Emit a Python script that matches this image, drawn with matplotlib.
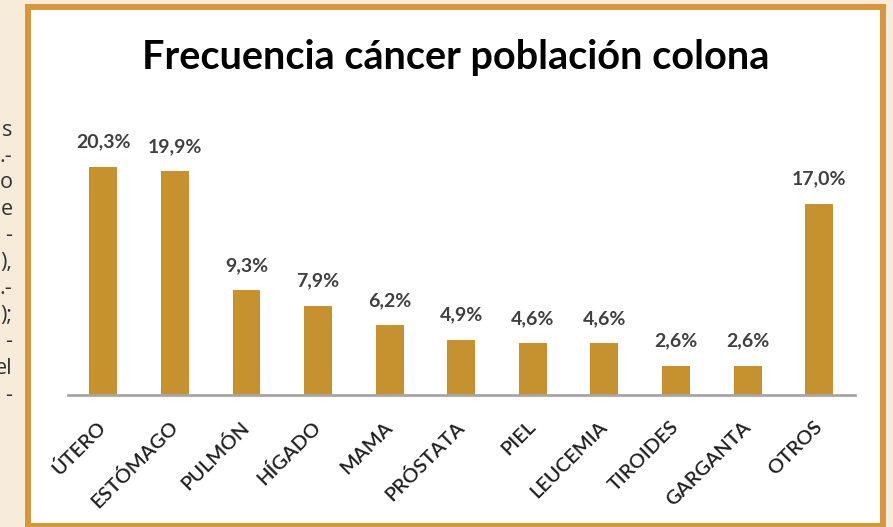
import numpy as np
import matplotlib.pyplot as plt
from matplotlib.patches import Rectangle

# data
categorias = ['ÚTERO', 'ESTÓMAGO', 'PULMÓN', 'HÍGADO', 'MAMA', 'PRÓSTATA',
              'PIEL', 'LEUCEMIA', 'TIROIDES', 'GARGANTA', 'OTROS']
frecuencia = [20.3, 19.9, 9.3, 7.9, 6.2, 4.9, 4.6, 4.6, 2.6, 2.6, 17.0]
titulo = 'Frecuencia cáncer población colona'
# restos de texto cortado a la izquierda de la captura
texto_izq = ['s', '.-', 'o', 'e', '-', '),', '.-', ');', '-', 'el', '-']

W, H = 893, 527
fondo = '#F7EBDA'
borde = '#D6963C'
barra = '#C69230'
gris = '#404040'

plt.rcParams['font.family'] = ['Lato', 'DejaVu Sans']

fig = plt.figure(figsize=(W/100, H/100), dpi=100)
fig.patch.set_facecolor(fondo)

def fx(px):
    return px/W
def fy(py):
    return 1 - py/H

# recuadro del grafico
fig.patches.append(Rectangle((fx(28), fy(526)), fx(883)-fx(28), fy(7)-fy(526),
                             transform=fig.transFigure, facecolor='white',
                             edgecolor=borde, lw=4.3, zorder=-10))

for i, t in enumerate(texto_izq):
    fig.text(fx(12.5), fy(130 + i*26.5), t, ha='right', va='center',
             fontsize=15.5, color='#333333', family=['Open Sans', 'DejaVu Sans'])

ax = fig.add_axes([fx(67.5), fy(395), fx(855)-fx(67.5), fy(114)-fy(395)])
ax.set_facecolor('none')
x = np.arange(len(categorias))
ax.bar(x, frecuencia, width=0.39, color=barra, zorder=2)
ax.set_xlim(-0.5, len(categorias)-0.5)
ax.set_ylim(0, 25)

for xi, v in zip(x, frecuencia):
    ax.annotate(f'{v:.1f}%'.replace('.', ','), (xi, v), xytext=(0, 18),
                textcoords='offset points', ha='center', va='center',
                fontsize=14, color=gris, fontweight='bold')

for s in ['top', 'right', 'left']:
    ax.spines[s].set_visible(False)
ax.spines['bottom'].set_color('#A6A6A6')
ax.spines['bottom'].set_linewidth(2)
ax.set_yticks([])
ax.set_xticks(x, categorias)
ax.tick_params(axis='x', length=0, pad=21, labelsize=14.5, labelcolor='#1f1f1f')
plt.setp(ax.get_xticklabels(), rotation=45, ha='right', va='center',
         rotation_mode='anchor', fontweight='semibold')

fig.text(fx(456), fy(57), titulo, ha='center', va='center', fontsize=28.5,
         fontweight='bold', color='black')

fig.savefig('out.png', dpi=100, facecolor=fondo)
